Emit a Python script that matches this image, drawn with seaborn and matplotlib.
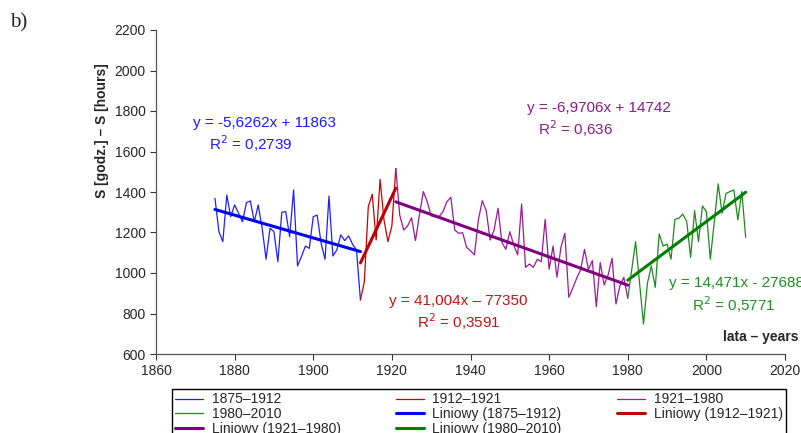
import numpy as np
import pandas as pd
import matplotlib
matplotlib.use("Agg")
import matplotlib.pyplot as plt
import seaborn as sns

# sunshine duration, annual sums [hours]
years_1 = np.arange(1875, 1913)
sun_1 = [1369, 1204, 1155, 1385, 1278, 1336, 1295, 1253, 1347, 1356,
         1253, 1336, 1221, 1068, 1221, 1204, 1056, 1300, 1303, 1180,
         1410, 1035, 1081, 1133, 1122, 1278, 1286, 1147, 1068, 1380,
         1084, 1114, 1188, 1160, 1183, 1142, 1114, 867]

years_2 = np.arange(1912, 1922)
sun_2 = [867, 957, 1328, 1389, 1163, 1462, 1262, 1155, 1232, 1516]

years_3 = np.arange(1921, 1981)
sun_3 = [1516, 1286, 1212, 1232, 1273, 1160, 1286, 1402, 1352, 1282,
         1278, 1278, 1303, 1352, 1374, 1212, 1196, 1199, 1127, 1110,
         1089, 1262, 1357, 1308, 1163, 1212, 1320, 1150, 1117, 1204,
         1138, 1089, 1341, 1028, 1044, 1028, 1068, 1056, 1265, 1018,
         1133, 979, 1127, 1196, 880, 924, 974, 1015, 1117, 1018,
         1061, 834, 1051, 941, 990, 1073, 847, 936, 979, 875]

years_4 = np.arange(1980, 2011)
sun_4 = [875, 1015, 1155, 950, 748, 949, 1035, 929, 1193, 1133,
         1143, 1068, 1265, 1270, 1291, 1254, 1077, 1308, 1155, 1331,
         1303, 1068, 1250, 1440, 1295, 1393, 1402, 1410, 1262, 1402,
         1176]

periods = ["1875–1912", "1912–1921", "1921–1980", "1980–2010"]
slopes = [-5.6262, 41.004, -6.9706, 14.471]
intercepts = [11863, -77350, 14742, -27688]
eq_texts = ["y = -5,6262x + 11863", "y = 41,004x – 77350",
            "y = -6,9706x + 14742", "y = 14,471x - 27688"]
r2_texts = ["R$^2$ = 0,2739", "R$^2$ = 0,3591",
            "R$^2$ = 0,636", "R$^2$ = 0,5771"]

thin_colors = ["#1f1fff", "#c80000", "#9a1a9a", "#1a8c1a"]
thick_colors = ["#0000ff", "#c00000", "#800080", "#008000"]
text_colors = ["#1a1aff", "#cc1111", "#8b1a8b", "#1f8f1f"]

sns.set_style("ticks")
plt.rcParams["font.family"] = ["Liberation Sans", "DejaVu Sans"]

fig = plt.figure(figsize=(8.01, 4.33), dpi=100)
W, H = 801, 433
ax = fig.add_axes([156 / W, 1 - 354 / H, (785 - 156) / W, (354 - 30) / H])

series = [(years_1, sun_1), (years_2, sun_2), (years_3, sun_3), (years_4, sun_4)]
for (yr, val), col, lab in zip(series, thin_colors, periods):
    sns.lineplot(x=yr, y=val, ax=ax, color=col, lw=0.9, label=lab)

for (yr, _), a, b, col, lab in zip(series, slopes, intercepts, thick_colors, periods):
    ends = np.array([yr[0], yr[-1]])
    trend = pd.DataFrame({"x": ends, "y": a * ends + b})
    sns.lineplot(data=trend, x="x", y="y", ax=ax, color=col, lw=2.2,
                 label=f"Liniowy ({lab})")

ax.set_xlim(1860, 2020)
ax.set_ylim(600, 2200)
ax.set_xticks(range(1860, 2021, 20))
ax.set_yticks(range(600, 2201, 200))
ax.tick_params(labelsize=10, length=4, width=0.8, color="#333333")
for s in ["top", "right"]:
    ax.spines[s].set_visible(False)
for s in ["left", "bottom"]:
    ax.spines[s].set_color("#555555")
    ax.spines[s].set_linewidth(0.9)

ax.set_xlabel("")
ax.set_ylabel("S [godz.] – S [hours]", fontsize=10, fontweight="bold")
ax.yaxis.set_label_coords(-0.074, 0.69)

# equations of trend lines
eq_pos = [(1887.7, 1741, "center"), (1936.9, 862, "center"),
          (1972.6, 1815, "center"), (1990.5, 951, "left")]
r2_pos = [(1884.1, 1637), (1936.9, 758), (1966.7, 1711), (2007.0, 842)]
for i in range(4):
    x, y, ha = eq_pos[i]
    ax.text(x, y, eq_texts[i], color=text_colors[i], fontsize=11,
            ha=ha, va="center", clip_on=False)
    ax.text(r2_pos[i][0], r2_pos[i][1], r2_texts[i], color=text_colors[i],
            fontsize=11, ha="center", va="center", clip_on=False)

ax.text(2023.5, 684, "lata – years", fontsize=10, fontweight="bold",
        ha="right", va="center", clip_on=False)

fig.text(10 / W, 1 - 23 / H, "b)", family=["Liberation Serif"], fontsize=15,
         va="center", ha="left")

# legend, row-wise order as in the original
h, l = ax.get_legend_handles_labels()
ax.get_legend().remove()
order = [0, 3, 6, 1, 4, 7, 2, 5]
fig.legend([h[i] for i in order], [l[i] for i in order], ncol=3,
           loc="upper left", bbox_to_anchor=(172 / W, 1 - 389 / H, (786 - 172) / W, 0),
           mode="expand", fontsize=10, frameon=True, fancybox=False,
           edgecolor="black", framealpha=1, labelspacing=0.05,
           handlelength=2.0, handletextpad=0.6, borderpad=0.25,
           columnspacing=1.0, borderaxespad=0)

fig.savefig("out.png", dpi=100)
